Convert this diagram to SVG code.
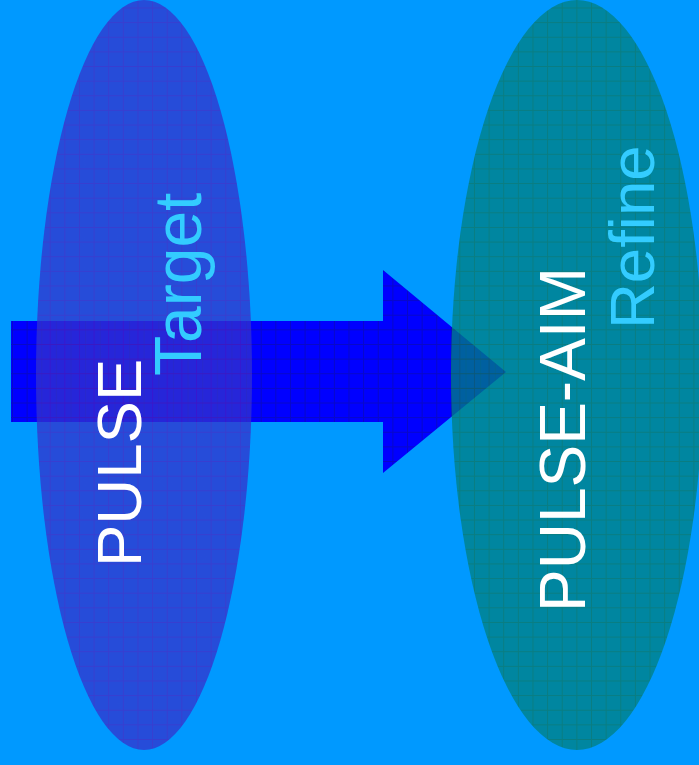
<svg xmlns="http://www.w3.org/2000/svg" width="699" height="765" viewBox="0 0 699 765">
  <defs>
    <!-- fine grid textures used inside the shapes -->
    <pattern id="gridArrow" patternUnits="userSpaceOnUse" x="12" y="7.5" width="14.63" height="14.63">
      <rect width="14.63" height="14.63" fill="#0000FF"/>
      <path d="M0 0.5H14.63M0.5 0V14.63" stroke="#0808C8" stroke-width="1" fill="none"/>
    </pattern>
    <pattern id="gridPulse" patternUnits="userSpaceOnUse" x="5.8" y="7.5" width="14.63" height="14.63">
      <rect width="14.63" height="14.63" fill="#3333CC"/>
      <path d="M0 0.5H14.63M0.5 0V14.63" stroke="#4A20C0" stroke-width="1" fill="none"/>
    </pattern>
    <pattern id="gridAim" patternUnits="userSpaceOnUse" x="5.8" y="7.5" width="14.63" height="14.63">
      <rect width="14.63" height="14.63" fill="#008080"/>
      <path d="M0 0.5H14.63M0.5 0V14.63" stroke="#0D7458" stroke-width="1" fill="none"/>
    </pattern>
  </defs>
  <style>
    .lbl { font-family: "Liberation Sans", Arial, sans-serif; font-size: 63.5px; }
    .main { fill: #FFFFFF; }
    .sub { fill: #33CCFF; }
    .node { opacity: 0.75; }
  </style>

  <rect width="699" height="765" fill="#0099FF"/>

  <g id="connectors">
    <polygon points="11,321 383,321 383,270 506,372 383,473 383,422 11,422" fill="url(#gridArrow)"/>
  </g>

  <g id="pulse">
    <ellipse class="node" cx="144" cy="375" rx="108" ry="375" fill="url(#gridPulse)"/>
    <text class="lbl main" transform="translate(141,567) rotate(-90)">PULSE</text>
    <text class="lbl sub" transform="translate(201,376) rotate(-90)" style="font-size:66px">Target</text>
  </g>

  <g id="pulse-aim">
    <ellipse class="node" cx="577" cy="375" rx="126" ry="375" fill="url(#gridAim)"/>
    <text class="lbl main" transform="translate(585,612) rotate(-90)" style="font-size:64px">PULSE-AIM</text>
    <text class="lbl sub" transform="translate(654,329) rotate(-90)">Refine</text>
  </g>
</svg>
